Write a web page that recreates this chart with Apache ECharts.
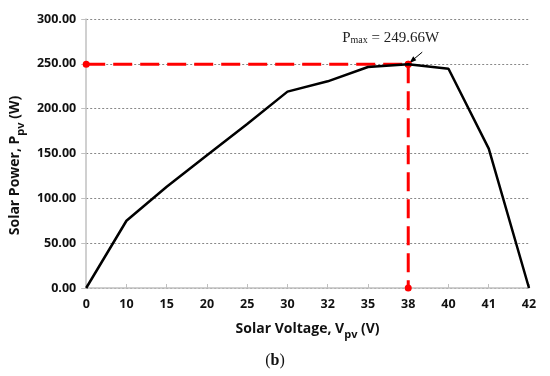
<!DOCTYPE html>
<html><head><meta charset="utf-8">
<script src="https://cdn.jsdelivr.net/npm/echarts@6/dist/echarts.min.js"></script>
<style>html,body{margin:0;padding:0;background:#fff}#c{width:550px;height:376px}</style>
</head><body><div id="c"></div>
<script>
const voltages = ['0','10','15','20','25','30','32','35','38','40','41','42'];
const power = [0, 75, 113, 148, 183, 219, 230.5, 246.5, 249.66, 244.5, 155.5, 0];
const yTicks = [0, 50, 100, 150, 200, 250, 300];
const pmaxV = '38';
const pmax = 249.66;
const hLine = [['0', pmax], [pmaxV, pmax]];
const vLine = [[pmaxV, pmax], [pmaxV, 0]];

const chart = echarts.init(document.getElementById('c'));
const boldFont = '"Open Sans", sans-serif';
chart.setOption({
  animation: false,
  grid: {left: 86, right: 21, top: 19, bottom: 88},
  xAxis: {
    type: 'category', data: voltages, boundaryGap: false,
    axisLine: {lineStyle: {color: '#c0c0c0', width: 1.5}},
    axisTick: {inside: true, length: 4, lineStyle: {color: '#c0c0c0'}},
    axisLabel: {color: '#111', fontFamily: boldFont, fontWeight: 'bold', fontSize: 12.5, margin: 10},
    name: '{a|Solar Voltage, V}{s|pv}{a| (V)}',
    nameLocation: 'middle', nameGap: 34,
    nameTextStyle: {rich: {
      a: {fontFamily: boldFont, fontWeight: 'bold', fontSize: 14, color: '#111', verticalAlign: 'top'},
      s: {fontFamily: boldFont, fontWeight: 'bold', fontSize: 11, color: '#111', verticalAlign: 'top', padding: [7,0,0,0]}
    }}
  },
  yAxis: {
    type: 'value', min: yTicks[0], max: yTicks[yTicks.length - 1], interval: 50,
    axisLine: {show: true, lineStyle: {color: '#c0c0c0', width: 1.5}},
    axisTick: {show: true, length: 5, lineStyle: {color: '#c0c0c0'}},
    splitLine: {lineStyle: {color: '#888', type: [2, 2], width: 1}},
    axisLabel: {color: '#111', fontFamily: boldFont, fontWeight: 'bold', fontSize: 12.5, margin: 10,
      formatter: v => v.toFixed(2)},
    name: '{a|Solar Power, P}{s|pv}{a| (W)}',
    nameLocation: 'middle', nameGap: 57, nameRotate: 90,
    nameTextStyle: {padding: [0, 24, 0, 0], rich: {
      a: {fontFamily: boldFont, fontWeight: 'bold', fontSize: 14, color: '#111', verticalAlign: 'top'},
      s: {fontFamily: boldFont, fontWeight: 'bold', fontSize: 11, color: '#111', verticalAlign: 'top', padding: [7,0,0,0]}
    }}
  },
  series: [
    {type: 'line', data: hLine, symbol: 'circle', symbolSize: 7, z: 3,
     itemStyle: {color: '#ff0000'},
     lineStyle: {color: '#ff0000', width: 3, type: [19, 8]}},
    {type: 'line', data: vLine, symbol: 'circle', symbolSize: 7, z: 3,
     itemStyle: {color: '#ff0000'},
     lineStyle: {color: '#ff0000', width: 3, type: [19, 8]}},
    {type: 'line', data: power, symbol: 'none', z: 4,
     lineStyle: {color: '#000', width: 2.5}}
  ]
});

const p = chart.convertToPixel({gridIndex: 0}, [voltages.indexOf(pmaxV), pmax]);
chart.setOption({
  graphic: [
    {type: 'line', shape: {x1: p[0] + 14, y1: p[1] - 12, x2: p[0] + 2, y2: p[1] - 2},
     style: {stroke: '#000', lineWidth: 1}},
    {type: 'polygon', shape: {points: [[p[0] + 1, p[1] - 1], [p[0] + 8, p[1] - 4], [p[0] + 5, p[1] - 8]]},
     style: {fill: '#000'}},
    {type: 'text', x: p[0] - 66, y: p[1] - 34,
     style: {text: '{a|P}{s|max}{a| = 249.66W}', rich: {
       a: {fontFamily: '"Liberation Serif", serif', fontSize: 15, fill: '#222', verticalAlign: 'top'},
       s: {fontFamily: '"Liberation Serif", serif', fontSize: 10, fill: '#222', verticalAlign: 'top', padding: [5,0,0,0]}
     }}},
    {type: 'text', left: 'center', top: 353,
     style: {text: '{p|(}{b|b}{p|)}', rich: {
       p: {fontFamily: '"Liberation Serif", serif', fontSize: 16, fill: '#111'},
       b: {fontFamily: '"Liberation Serif", serif', fontSize: 16, fontWeight: 'bold', fill: '#111'}
     }}}
  ]
});
</script></body></html>
